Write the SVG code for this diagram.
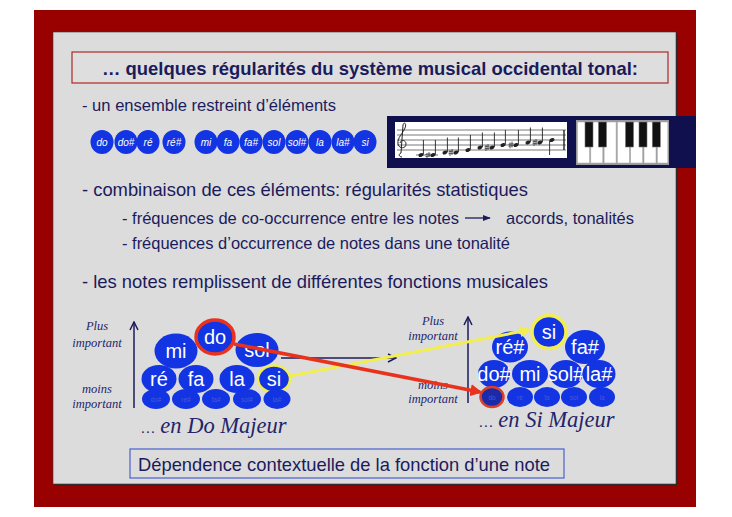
<svg xmlns="http://www.w3.org/2000/svg" width="732" height="517" viewBox="0 0 732 517">
<defs>
<style>
.txt{font-family:"Liberation Sans",Arial,sans-serif;fill:#1b1b5c}
.ser{font-family:"Liberation Serif","Times New Roman",serif;font-style:italic;fill:#24246a;text-anchor:middle}
.nb{fill:#1234e2}
.nt{font-family:"Liberation Sans",Arial,sans-serif;fill:#fff;text-anchor:middle}
.sm{font-family:"Liberation Sans",Arial,sans-serif;fill:#4658d8;text-anchor:middle;font-size:6.5px}
.row{font-style:italic;font-size:10px}
.cl{font-size:20px}
.staff{stroke:#555;stroke-width:0.8}
.head{fill:#222}
.stem{stroke:#222;stroke-width:0.9}
.sharp{stroke:#222;stroke-width:0.7;fill:none}
</style>
<marker id="chev" viewBox="0 0 10 10" refX="9" refY="5" markerWidth="10" markerHeight="10" markerUnits="userSpaceOnUse" orient="auto">
<path d="M1,1 L9,5 L1,9" fill="none" stroke="#1b1b5c" stroke-width="1.5"/>
</marker>
<marker id="tri" viewBox="0 0 10 10" refX="9" refY="5" markerWidth="8" markerHeight="8" markerUnits="userSpaceOnUse" orient="auto">
<path d="M0,1 L10,5 L0,9 Z" fill="#1b1b5c"/>
</marker>
<marker id="ared" viewBox="0 0 10 10" refX="8" refY="5" markerWidth="12" markerHeight="12" markerUnits="userSpaceOnUse" orient="auto">
<path d="M0,0 L10,5 L0,10 Z" fill="#e8321e"/>
</marker>
<marker id="ayel" viewBox="0 0 10 10" refX="8" refY="5" markerWidth="11" markerHeight="11" markerUnits="userSpaceOnUse" orient="auto">
<path d="M0,0 L10,5 L0,10 Z" fill="#f2ee50"/>
</marker>
</defs>

<rect width="732" height="517" fill="#ffffff"/>
<g id="frame">
<rect x="34" y="10" width="662" height="497" fill="#990000"/>
<rect x="55" y="34" width="623" height="452" fill="#2a2a2a"/>
<rect x="53" y="32" width="623" height="452" fill="#dcdcdc" stroke="#3a3a3a" stroke-width="0.6"/>
</g>

<g id="title">
<rect x="72" y="52" width="596" height="31" fill="#dedede" stroke="#b02828" stroke-width="1.2"/>
<text class="txt" x="370" y="74.5" font-size="18.5" font-weight="bold" text-anchor="middle" textLength="536" lengthAdjust="spacingAndGlyphs">… quelques régularités du système musical occidental tonal:</text>
</g>

<g id="bullets">
<text class="txt" x="82" y="110.5" font-size="16" textLength="254" lengthAdjust="spacingAndGlyphs">- un ensemble restreint d’éléments</text>
<text class="txt" x="82" y="196" font-size="19" textLength="446" lengthAdjust="spacingAndGlyphs">- combinaison de ces éléments: régularités statistiques</text>
<text class="txt" x="122" y="223.5" font-size="16.5" textLength="337" lengthAdjust="spacingAndGlyphs">- fréquences de co-occurrence entre les notes</text>
<text class="txt" x="506" y="223.5" font-size="16.5" textLength="128" lengthAdjust="spacingAndGlyphs">accords, tonalités</text>
<text class="txt" x="122" y="248.5" font-size="16.5" textLength="388" lengthAdjust="spacingAndGlyphs">- fréquences d’occurrence de notes dans une tonalité</text>
<text class="txt" x="82" y="288" font-size="19" textLength="466" lengthAdjust="spacingAndGlyphs">- les notes remplissent de différentes fonctions musicales</text>
</g>

<g id="note-row">
<ellipse class="nb" cx="102" cy="142" rx="11.5" ry="12"/><text class="nt row" x="102" y="145.5">do</text>
<ellipse class="nb" cx="126" cy="142" rx="11.5" ry="12"/><text class="nt row" x="126" y="145.5">do#</text>
<ellipse class="nb" cx="148" cy="142" rx="11.5" ry="12"/><text class="nt row" x="148" y="145.5">ré</text>
<ellipse class="nb" cx="174" cy="142" rx="11.5" ry="12"/><text class="nt row" x="174" y="145.5">ré#</text>
<ellipse class="nb" cx="206" cy="142" rx="11.5" ry="12"/><text class="nt row" x="206" y="145.5">mi</text>
<ellipse class="nb" cx="228" cy="142" rx="11.5" ry="12"/><text class="nt row" x="228" y="145.5">fa</text>
<ellipse class="nb" cx="251" cy="142" rx="11.5" ry="12"/><text class="nt row" x="251" y="145.5">fa#</text>
<ellipse class="nb" cx="274" cy="142" rx="11.5" ry="12"/><text class="nt row" x="274" y="145.5">sol</text>
<ellipse class="nb" cx="297" cy="142" rx="11.5" ry="12"/><text class="nt row" x="297" y="145.5">sol#</text>
<ellipse class="nb" cx="320" cy="142" rx="11.5" ry="12"/><text class="nt row" x="320" y="145.5">la</text>
<ellipse class="nb" cx="343" cy="142" rx="11.5" ry="12"/><text class="nt row" x="343" y="145.5">la#</text>
<ellipse class="nb" cx="365" cy="142" rx="11.5" ry="12"/><text class="nt row" x="365" y="145.5">si</text>
</g>

<g id="score-panel">
<rect x="387" y="116" width="309" height="52" fill="#10104e"/>
<rect x="395" y="122" width="172" height="36" fill="#ffffff"/>
<g class="staff">
<line x1="397" y1="130" x2="566" y2="130"/>
<line x1="397" y1="135" x2="566" y2="135"/>
<line x1="397" y1="140" x2="566" y2="140"/>
<line x1="397" y1="145" x2="566" y2="145"/>
<line x1="397" y1="150" x2="566" y2="150"/>
</g>
<line x1="564" y1="130" x2="564" y2="150" stroke="#222" stroke-width="1.4"/>
<path d="M402,157 C399,157 398,154 401,153 M401,153 L403,125 C404,121 407,124 405,128 C403,133 397,138 398,144 C399,149 406,149 406,144 C406,140 401,139 400,143" fill="none" stroke="#222" stroke-width="1"/>
<g>
<line x1="416" y1="155" x2="426" y2="155" stroke="#333" stroke-width="0.7"/>
<ellipse class="head" cx="421" cy="155" rx="2.6" ry="1.9" transform="rotate(-20 421 155)"/><line class="stem" x1="423.4" y1="154.5" x2="423.4" y2="140"/>
<path class="sharp" d="M427,153 L427,158 M429,152 L429,157 M425.5,154.5 L430.5,153.8 M425.5,156.5 L430.5,155.8"/>
<line x1="428" y1="155" x2="438" y2="155" stroke="#333" stroke-width="0.7"/>
<ellipse class="head" cx="433" cy="155" rx="2.6" ry="1.9" transform="rotate(-20 433 155)"/><line class="stem" x1="435.4" y1="154.5" x2="435.4" y2="140"/>
<ellipse class="head" cx="445" cy="152.5" rx="2.6" ry="1.9" transform="rotate(-20 445 152.5)"/><line class="stem" x1="447.4" y1="152" x2="447.4" y2="137.5"/>
<path class="sharp" d="M450,150 L450,156 M452,149 L452,155 M448.5,151.8 L453.5,151.1 M448.5,153.8 L453.5,153.1"/>
<ellipse class="head" cx="456" cy="152.5" rx="2.6" ry="1.9" transform="rotate(-20 456 152.5)"/><line class="stem" x1="458.4" y1="152" x2="458.4" y2="137.5"/>
<ellipse class="head" cx="468" cy="150" rx="2.6" ry="1.9" transform="rotate(-20 468 150)"/><line class="stem" x1="470.4" y1="149.5" x2="470.4" y2="135"/>
<ellipse class="head" cx="480" cy="147.5" rx="2.6" ry="1.9" transform="rotate(-20 480 147.5)"/><line class="stem" x1="482.4" y1="147" x2="482.4" y2="132.5"/>
<path class="sharp" d="M486,145 L486,151 M488,144 L488,150 M484.5,146.8 L489.5,146.1 M484.5,148.8 L489.5,148.1"/>
<ellipse class="head" cx="492" cy="147.5" rx="2.6" ry="1.9" transform="rotate(-20 492 147.5)"/><line class="stem" x1="494.4" y1="147" x2="494.4" y2="132.5"/>
<ellipse class="head" cx="503" cy="145" rx="2.6" ry="1.9" transform="rotate(-20 503 145)"/><line class="stem" x1="505.4" y1="144.5" x2="505.4" y2="130"/>
<path class="sharp" d="M510,142.5 L510,148.5 M512,141.5 L512,147.5 M508.5,144.3 L513.5,143.6 M508.5,146.3 L513.5,145.6"/>
<ellipse class="head" cx="516" cy="145" rx="2.6" ry="1.9" transform="rotate(-20 516 145)"/><line class="stem" x1="518.4" y1="144.5" x2="518.4" y2="130"/>
<ellipse class="head" cx="528" cy="142.5" rx="2.6" ry="1.9" transform="rotate(-20 528 142.5)"/><line class="stem" x1="530.4" y1="142" x2="530.4" y2="127.5"/>
<path class="sharp" d="M534,140 L534,146 M536,139 L536,145 M532.5,141.8 L537.5,141.1 M532.5,143.8 L537.5,143.1"/>
<ellipse class="head" cx="540" cy="142.5" rx="2.6" ry="1.9" transform="rotate(-20 540 142.5)"/><line class="stem" x1="542.4" y1="142" x2="542.4" y2="127.5"/>
<ellipse class="head" cx="552" cy="140" rx="2.6" ry="1.9" transform="rotate(-20 552 140)"/><line class="stem" x1="549.6" y1="140.5" x2="549.6" y2="155"/>
</g>
<rect x="576" y="120" width="93" height="45" fill="#9a9a9a"/>
<g fill="#ffffff" stroke="#b0b0b0" stroke-width="0.6">
<rect x="577.5" y="122" width="12" height="41"/>
<rect x="590.8" y="122" width="12" height="41"/>
<rect x="604.1" y="122" width="12" height="41"/>
<rect x="617.4" y="122" width="12" height="41"/>
<rect x="630.7" y="122" width="12" height="41"/>
<rect x="644" y="122" width="12" height="41"/>
<rect x="657.3" y="122" width="10.5" height="41"/>
</g>
<g fill="#111111" stroke="#777" stroke-width="0.6">
<rect x="585" y="122" width="8" height="25"/>
<rect x="598.5" y="122" width="8" height="25"/>
<rect x="625.5" y="122" width="8" height="25"/>
<rect x="639" y="122" width="8" height="25"/>
<rect x="652.3" y="122" width="8" height="25"/>
</g>
</g>

<g id="left-scale">
<text class="ser" x="97" y="330" font-size="12.5">Plus</text>
<text class="ser" x="97" y="347" font-size="12.5">important</text>
<text class="ser" x="97" y="393" font-size="12.5">moins</text>
<text class="ser" x="97" y="408" font-size="12.5">important</text>
</g>
<g id="right-scale">
<text class="ser" x="433" y="325" font-size="12.5">Plus</text>
<text class="ser" x="433" y="340" font-size="12.5">important</text>
<text class="ser" x="433" y="389" font-size="12.5">moins</text>
<text class="ser" x="433" y="403" font-size="12.5">important</text>
</g>

<g id="do-majeur">
<ellipse class="nb" cx="176" cy="351" rx="21.5" ry="17.5"/><text class="nt cl" x="176" y="358">mi</text>
<ellipse class="nb" cx="257" cy="350" rx="21.5" ry="17"/><text class="nt cl" x="257" y="357">sol</text>
<ellipse class="nb" cx="215" cy="337" rx="18" ry="16"/>
<ellipse cx="215" cy="337" rx="19" ry="17" fill="none" stroke="#e8321e" stroke-width="3.5"/>
<text class="nt cl" x="215" y="344">do</text>
<ellipse class="nb" cx="159" cy="379" rx="17.5" ry="14"/><text class="nt cl" x="159" y="386">ré</text>
<ellipse class="nb" cx="196" cy="379" rx="17.5" ry="14"/><text class="nt cl" x="196" y="386">fa</text>
<ellipse class="nb" cx="237" cy="379" rx="17.5" ry="14"/><text class="nt cl" x="237" y="386">la</text>
<ellipse class="nb" cx="274" cy="379" rx="16" ry="13"/>
<ellipse cx="274" cy="379" rx="16" ry="13.5" fill="none" stroke="#f2ee50" stroke-width="2.5"/>
<text class="nt cl" x="274" y="386">si</text>
<ellipse class="nb" cx="156" cy="399" rx="14" ry="10"/><text class="sm" x="156" y="401.5">do#</text>
<ellipse class="nb" cx="186" cy="399" rx="14" ry="10"/><text class="sm" x="186" y="401.5">ré#</text>
<ellipse class="nb" cx="216" cy="399" rx="14" ry="10"/><text class="sm" x="216" y="401.5">fa#</text>
<ellipse class="nb" cx="247" cy="399" rx="14" ry="10"/><text class="sm" x="247" y="401.5">sol#</text>
<ellipse class="nb" cx="277" cy="399" rx="13.5" ry="10"/><text class="sm" x="277" y="401.5">la#</text>
<text class="ser" x="214" y="433" font-size="22.5" fill="#1b1b6a"><tspan font-size="15">…</tspan> en Do Majeur</text>
</g>

<g id="si-majeur">
<ellipse class="nb" cx="510" cy="347" rx="18" ry="15.5"/><text class="nt cl" x="510" y="354">ré#</text>
<ellipse class="nb" cx="585" cy="347" rx="20" ry="17"/><text class="nt cl" x="585" y="354">fa#</text>
<ellipse class="nb" cx="549" cy="332" rx="16" ry="15"/>
<ellipse cx="549" cy="332" rx="17" ry="16.5" fill="none" stroke="#f2ee50" stroke-width="3.5"/>
<text class="nt cl" x="549" y="339">si</text>
<ellipse class="nb" cx="494" cy="374" rx="16" ry="14"/><text class="nt cl" x="494" y="381">do#</text>
<ellipse class="nb" cx="530" cy="374" rx="18" ry="14"/><text class="nt cl" x="530" y="381">mi</text>
<ellipse class="nb" cx="566" cy="374" rx="16.5" ry="14"/><text class="nt cl" x="566" y="381">sol#</text>
<ellipse class="nb" cx="599" cy="374" rx="16.5" ry="14"/><text class="nt cl" x="599" y="381">la#</text>
<ellipse cx="492" cy="397" rx="11.5" ry="10" fill="#1a2aa8" stroke="#d8402a" stroke-width="2.5"/><text class="sm" x="492" y="399.5">do</text>
<ellipse class="nb" cx="520" cy="397" rx="13" ry="10"/><text class="sm" x="520" y="399.5">ré</text>
<ellipse class="nb" cx="547" cy="397" rx="13" ry="10"/><text class="sm" x="547" y="399.5">fa</text>
<ellipse class="nb" cx="574" cy="397" rx="13" ry="10"/><text class="sm" x="574" y="399.5">sol</text>
<ellipse class="nb" cx="602" cy="397" rx="13" ry="10"/><text class="sm" x="602" y="399.5">la</text>
<text class="ser" x="547" y="427" font-size="22.5" fill="#1b1b6a"><tspan font-size="15">…</tspan> en Si Majeur</text>
</g>

<g id="conclusion">
<rect x="130" y="449" width="434" height="29" fill="#dcdcdc" stroke="#4a62d0" stroke-width="1.2"/>
<text class="txt" x="138" y="470.5" font-size="18.5" textLength="412" lengthAdjust="spacingAndGlyphs">Dépendence contextuelle de la fonction d’une note</text>
</g>

<g id="connectors" fill="none">
<line x1="465" y1="218" x2="490" y2="218" stroke="#1b1b5c" stroke-width="1.3" marker-end="url(#tri)"/>
<line x1="134" y1="408" x2="134" y2="322" stroke="#1b1b5c" stroke-width="1.5" marker-end="url(#chev)"/>
<line x1="468" y1="403" x2="468" y2="317" stroke="#1b1b5c" stroke-width="1.5" marker-end="url(#chev)"/>
<line x1="281" y1="358" x2="396" y2="358" stroke="#1b1b5c" stroke-width="1.5" marker-end="url(#chev)"/>
<line x1="290" y1="376" x2="529" y2="330" stroke="#f2ee50" stroke-width="3" marker-end="url(#ayel)"/>
<line x1="234" y1="344" x2="480" y2="392" stroke="#e8321e" stroke-width="3.5" marker-end="url(#ared)"/>
</g>
</svg>
